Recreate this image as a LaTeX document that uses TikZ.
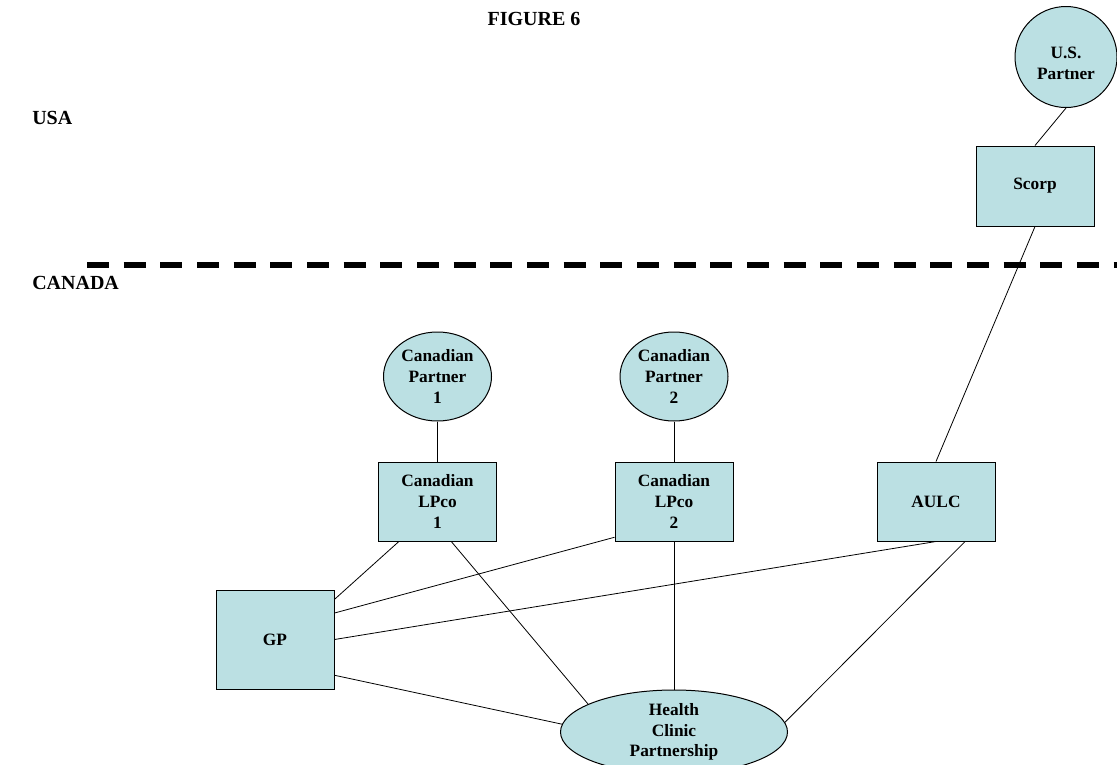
\documentclass[tikz,border=0pt]{standalone}
\usepackage{fontspec}
\setmainfont{Liberation Serif}
\usetikzlibrary{positioning,shapes.geometric}
\definecolor{celeste}{HTML}{BBE0E3}
\tikzset{
  caja/.style={rectangle, draw=black, line width=0.75pt, fill=celeste,
    align=center, minimum width=88.5pt, minimum height=59.25pt, inner sep=2pt,
    font=\fontsize{13}{15.6}\selectfont\bfseries},
  socio/.style={ellipse, draw=black, line width=0.75pt, fill=celeste,
    align=center, inner sep=0pt, font=\fontsize{13}{15.6}\selectfont\bfseries},
  rotulo/.style={font=\fontsize{15}{18}\selectfont\bfseries, inner sep=0pt},
  enlace/.style={line width=0.6pt},
  frontera/.style={line width=4.5pt, dash pattern=on 16.5pt off 11pt},
}

\begin{document}
\begin{tikzpicture}[x=0.75pt, y=-0.75pt]
    \useasboundingbox (0,0) rectangle (1117,764);
    % Titulo y regiones
    \node[rotulo] (fig) at (534,19) {FIGURE 6};
    \node[rotulo, anchor=west] (usa) at (32,117.5) {USA};
    \node[rotulo, anchor=west] (can) at (32,283) {CANADA};
    % Frontera
    \coordinate (f1) at (87,265);
    \coordinate (f2) at (1117,265);
    \draw[frontera] (f1) -- (f2);
    % Lado USA
    \node[socio, minimum width=76.5pt, minimum height=75.75pt, text height=34pt] (us) at (1066,57) {U.S.\\Partner};
    \node[caja, minimum height=60pt] (scorp) at (1035,186) {Scorp};
    % Lado Canada
    \node[caja] (lp1) at (437.5,501.5) {Canadian\\LPco\\1};
    \node[caja] (lp2) at (674,501.5) {Canadian\\LPco\\2};
    \node[caja] (aulc) at (936,501.5) {AULC};
    \node[socio, minimum width=81pt, minimum height=66.75pt, above=30pt of lp1] (p1) {Canadian\\Partner\\1};
    \node[socio, minimum width=81pt, minimum height=66.75pt, above=30pt of lp2] (p2) {Canadian\\Partner\\2};
    \node[caja, minimum height=74.25pt] (gp) at (275,639.5) {GP};
    \node[socio, minimum width=170.25pt, minimum height=63pt, below=111pt of lp2] (hcp) {Health\\Clinic\\Partnership};

    \draw[enlace] (us.south) -- (scorp.north);
    \draw[enlace] (scorp.south) -- (aulc.north);
    \draw[enlace] (p1) -- (lp1);
    \draw[enlace] (p2) -- (lp2);
    \draw[enlace] (lp1.226.5) -- (gp.34.5);
    \draw[enlace] (lp1.289.8) -- (hcp.162.3);
    \draw[enlace] (lp2.211.4) -- (gp.24.2);
    \draw[enlace] (lp2) -- (hcp);
    \draw[enlace] (aulc.south) -- (gp.east);
    \draw[enlace] (aulc.306.3) -- (hcp.5.6);
    \draw[enlace] (gp.329.7) -- (hcp.176);
\end{tikzpicture}
\end{document}
